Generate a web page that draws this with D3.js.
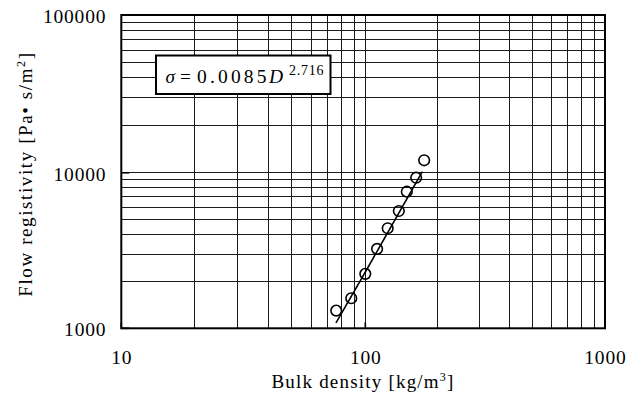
<!DOCTYPE html>
<html>
<head>
<meta charset="utf-8">
<script src="https://cdn.jsdelivr.net/npm/d3@7"></script>
<style>
  html, body { margin: 0; padding: 0; background: #fff; }
  svg { display: block; }
  text { font-family: "Liberation Serif", "DejaVu Serif", serif; fill: #000; }
</style>
</head>
<body>
<svg id="chart" width="643" height="394"></svg>
<script>
// Bulk density [kg/m3] and measured flow resistivity [Pa·s/m2]
const density = [76, 87.6, 100, 112, 124, 138, 149, 163, 176];
const resistivity = [1300, 1560, 2240, 3240, 4400, 5680, 7560, 9300, 12000];

// Power-law fit  sigma = a * D^b  and the density span it is drawn over
const fitCoef = 0.0085;
const fitExp = 2.716;
const fitRange = [75.8, 173];

// Axis decades and their labels
const xTicks = [10, 100, 1000];
const xTickLabels = ["10", "100", "1000"];
const yTicks = [1000, 10000, 100000];
const yTickLabels = ["1000", "10000", "100000"];

const xTitle = "Bulk density [kg/m";
const yTitle = "Flow registivity [Pa\u2022 s/m";

const svg = d3.select("#chart");

const x = d3.scaleLog().domain([10, 100, 1000]).range([121.3, 365.3, 605]);
const y = d3.scaleLog().domain([1000, 10000, 100000]).range([328.3, 172.8, 15]);

const [x0, x1] = [x(10), x(1000)];
const [y0, y1] = [y(1000), y(100000)];

// Log grid: every 1..9 step within each decade
const grid = svg.append("g").attr("shape-rendering", "crispEdges");
grid.selectAll("line.vx")
  .data(x.ticks())
  .join("line")
  .attr("x1", d => x(d)).attr("x2", d => x(d))
  .attr("y1", y1).attr("y2", y0)
  .attr("stroke", "#1a1a1a").attr("stroke-width", 1);
grid.selectAll("line.hy")
  .data(y.ticks())
  .join("line")
  .attr("x1", x0).attr("x2", x1)
  .attr("y1", d => y(d)).attr("y2", d => y(d))
  .attr("stroke", "#1a1a1a").attr("stroke-width", 1);

// Inside major tick marks
const ticks = svg.append("g").attr("stroke", "#000").attr("stroke-width", 1.6);
ticks.selectAll("line.tx").data(xTicks).join("line")
  .attr("x1", d => x(d)).attr("x2", d => x(d))
  .attr("y1", y0).attr("y2", y0 - 6);
ticks.selectAll("line.ty").data(yTicks).join("line")
  .attr("x1", x0).attr("x2", x0 + 8)
  .attr("y1", d => y(d)).attr("y2", d => y(d));

// Plot frame
svg.append("rect")
  .attr("x", x0).attr("y", y1)
  .attr("width", x1 - x0).attr("height", y0 - y1)
  .attr("fill", "none").attr("stroke", "#000").attr("stroke-width", 2);

// Tick labels
const digitAdvance = 10.6;
svg.append("g").selectAll("text")
  .data(xTicks)
  .join("text")
  .attr("x", d => x(d))
  .attr("y", 364)
  .attr("text-anchor", "middle")
  .attr("font-size", 19.5)
  .attr("textLength", (d, i) => xTickLabels[i].length * digitAdvance - 1)
  .attr("lengthAdjust", "spacing")
  .text((d, i) => xTickLabels[i]);

svg.append("g").selectAll("text")
  .data(yTicks)
  .join("text")
  .attr("x", 105.5)
  .attr("y", d => y(d) + 8)
  .attr("text-anchor", "end")
  .attr("font-size", 19.5)
  .attr("textLength", (d, i) => yTickLabels[i].length * digitAdvance - 1)
  .attr("lengthAdjust", "spacing")
  .text((d, i) => yTickLabels[i]);

// Axis titles
const xt = svg.append("text")
  .attr("x", 363).attr("y", 387.5)
  .attr("text-anchor", "middle")
  .attr("font-size", 19)
  .attr("letter-spacing", 1.2);
xt.append("tspan").text(xTitle);
xt.append("tspan").attr("font-size", 12).attr("dy", -7).text("3");
xt.append("tspan").attr("dy", 7).text("]");

const yt = svg.append("text")
  .attr("transform", "translate(32,174) rotate(-90)")
  .attr("text-anchor", "middle")
  .attr("font-size", 19)
  .attr("letter-spacing", 1.6);
yt.append("tspan").text(yTitle);
yt.append("tspan").attr("font-size", 12).attr("dy", -7).text("2");
yt.append("tspan").attr("dy", 7).text("]");

// Fitted power law
const fitLine = d3.line()
  .x(d => x(d))
  .y(d => y(fitCoef * Math.pow(d, fitExp)));
svg.append("path")
  .datum(d3.range(60).map(i => fitRange[0] * Math.pow(fitRange[1] / fitRange[0], i / 59)))
  .attr("d", fitLine)
  .attr("fill", "none")
  .attr("stroke", "#000")
  .attr("stroke-width", 1.6);

// Measured points
svg.append("g").selectAll("circle")
  .data(density)
  .join("circle")
  .attr("cx", d => x(d))
  .attr("cy", (d, i) => y(resistivity[i]))
  .attr("r", 5.3)
  .attr("fill", "none")
  .attr("stroke", "#000")
  .attr("stroke-width", 1.6);

// Equation box
const eq = svg.append("g");
eq.append("rect")
  .attr("x", 156).attr("y", 55.5)
  .attr("width", 174.5).attr("height", 38.5)
  .attr("fill", "#fff")
  .attr("stroke", "#000").attr("stroke-width", 2);
eq.append("text")
  .attr("x", 165.5).attr("y", 83.3)
  .attr("font-size", 19).attr("font-style", "italic")
  .text("\u03c3");
eq.append("text")
  .attr("x", 180).attr("y", 83.3)
  .attr("font-size", 19)
  .text("=");
eq.append("text")
  .attr("x", 197).attr("y", 83.3)
  .attr("font-size", 19.5)
  .attr("textLength", 69.5).attr("lengthAdjust", "spacing")
  .text(String(fitCoef));
eq.append("text")
  .attr("x", 269).attr("y", 83.3)
  .attr("font-size", 19.5).attr("font-style", "italic")
  .text("D");
eq.append("text")
  .attr("x", 289).attr("y", 74.5)
  .attr("font-size", 14)
  .attr("textLength", 34.5).attr("lengthAdjust", "spacing")
  .text(String(fitExp));
</script>
</body>
</html>
